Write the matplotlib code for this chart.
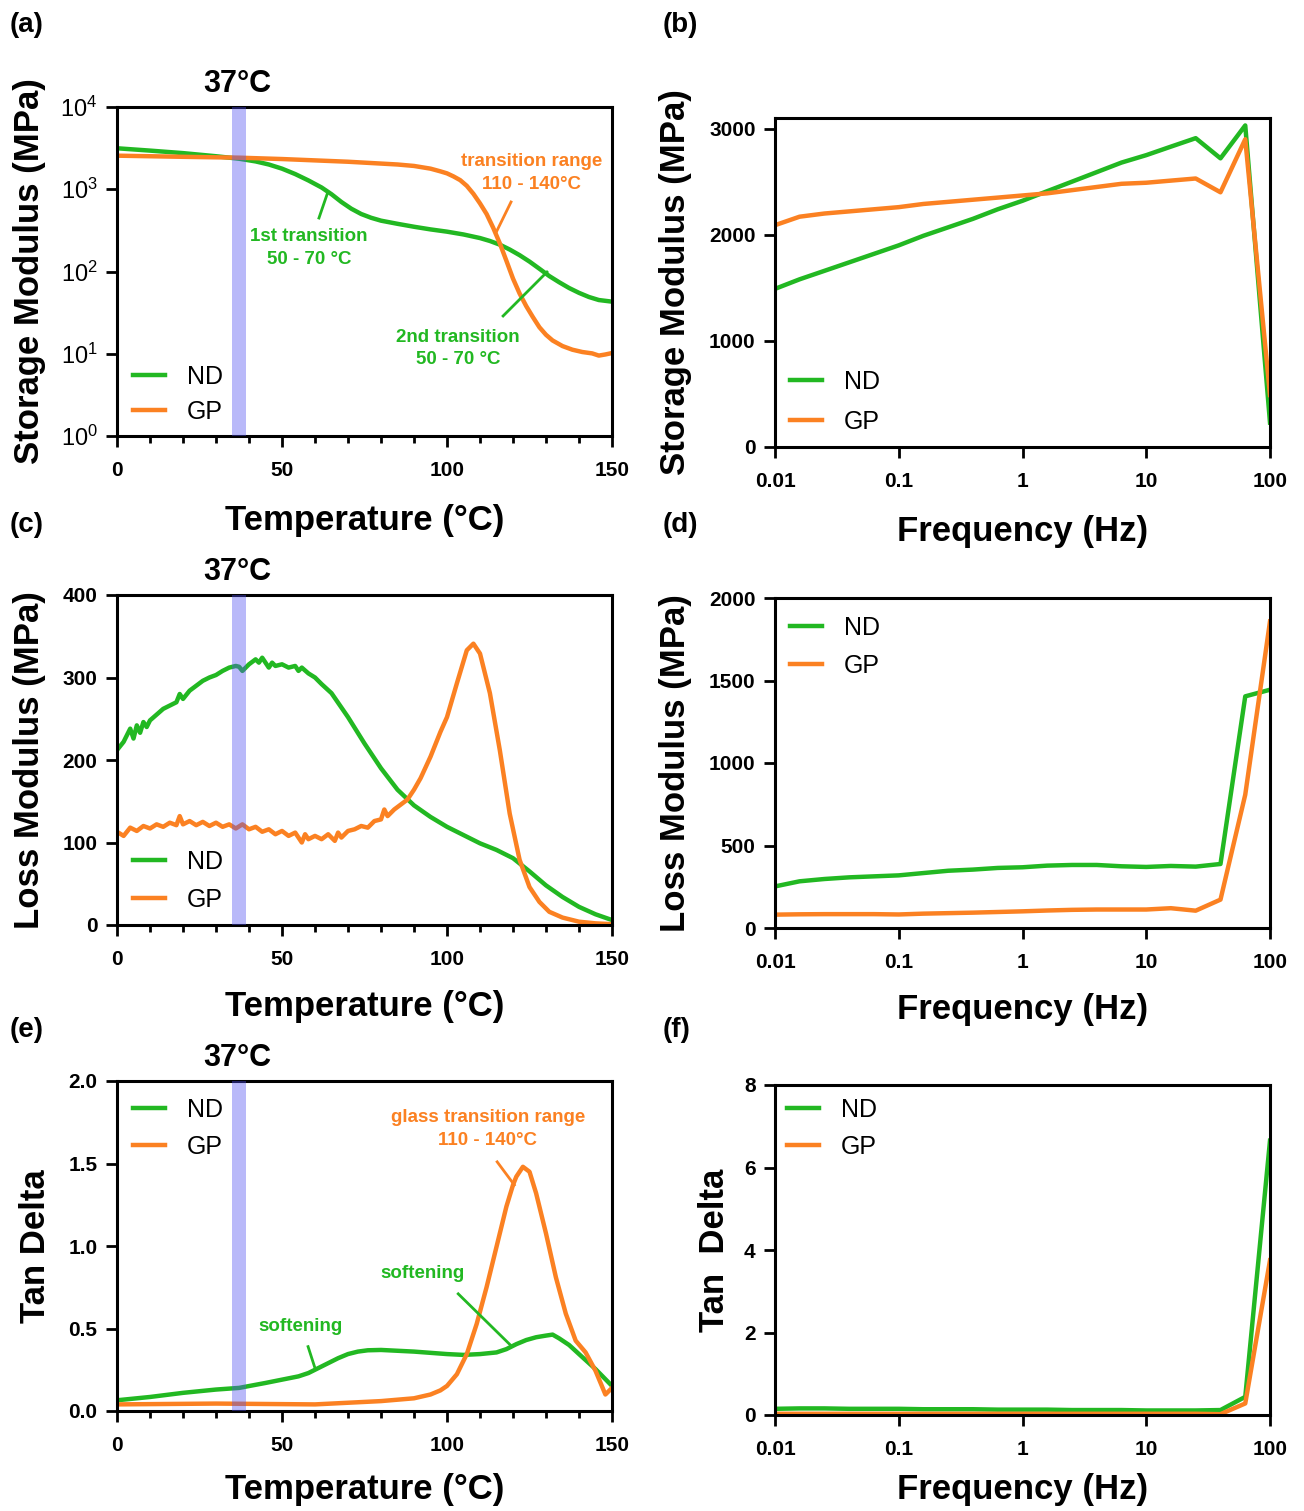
import math
import matplotlib
matplotlib.use('Agg')
import matplotlib.pyplot as plt
from matplotlib.ticker import MultipleLocator, NullLocator, FixedLocator, FuncFormatter

plt.rcParams['font.family'] = ['Liberation Sans', 'DejaVu Sans']
plt.rcParams['mathtext.fontset'] = 'custom'
plt.rcParams['mathtext.rm'] = 'Liberation Sans'
plt.rcParams['mathtext.bf'] = 'Liberation Sans:bold'

GREEN = '#22b822'
ORANGE = '#fb8122'

# ---- temperature sweeps ----
# (a) storage modulus vs temperature
a_temp_nd = [0, 10, 20, 30, 37, 42, 46, 50, 54, 58, 62, 65, 68, 71, 74, 77, 80, 85, 90, 95, 100, 105,
             110, 113, 116, 119, 122, 125, 128, 131, 134, 137, 140, 143, 146, 150]
a_nd = [3150, 2950, 2750, 2520, 2350, 2180, 2000, 1780, 1530, 1280, 1050, 870, 700, 580, 500, 450, 415, 380,
        350, 325, 305, 282, 255, 235, 212, 185, 158, 132, 108, 88, 74, 63, 55, 49, 45, 43]
a_temp_gp = [0, 20, 37, 50, 70, 85, 90, 95, 98, 100, 102, 104, 106, 108, 110, 112, 114, 116, 118, 120, 122,
             124, 126, 128, 130, 132, 135, 138, 141, 144, 146, 148, 150]
a_gp = [2560, 2480, 2420, 2330, 2160, 2000, 1920, 1780, 1650, 1560, 1430, 1290, 1100, 880, 673, 500, 340, 220,
        135, 82, 54, 38, 28, 21, 17, 14.5, 12.4, 11.2, 10.5, 10.1, 9.5, 9.8, 10.2]

# (c) loss modulus vs temperature
c_temp_nd = [0, 2, 3, 4, 5, 6, 7, 8, 9, 10, 12, 14, 16, 18, 19, 20, 22, 24, 26, 28, 30, 32, 34, 36, 37, 38, 40,
             42, 43, 44, 46, 47, 48, 50, 52, 54, 55, 56, 58, 60, 62, 65, 70, 75, 80, 85, 90, 95, 100,
             105, 110, 115, 120, 125, 130, 135, 140, 145, 150]
c_nd = [212, 222, 230, 238, 226, 242, 233, 246, 240, 248, 255, 262, 266, 270, 280, 274, 284, 290, 296, 300, 303,
        308, 312, 314, 313, 308, 316, 322, 318, 324, 312, 318, 314, 316, 312, 314, 308, 312, 305, 300,
        292, 281, 252, 220, 190, 164, 145, 131, 119, 109, 99, 91, 81, 65, 48, 34, 22, 13, 6]
c_temp_gp = [0, 2, 4, 6, 8, 10, 12, 14, 16, 18, 19, 20, 22, 24, 26, 28, 30, 32, 34, 36, 38, 40, 42, 44, 46, 48,
             50, 52, 54, 56, 57, 58, 60, 62, 64, 66, 67, 68, 70, 72, 74, 76, 78, 80, 81, 82, 84, 86, 88, 90,
             92, 95, 98, 100, 103, 106, 108, 110, 113, 116, 119, 122, 125, 128, 131, 135, 140, 145, 150]
c_gp = [113, 108, 118, 114, 120, 117, 122, 119, 124, 121, 132, 122, 126, 121, 125, 120, 124, 119, 122, 117,
        122, 116, 119, 113, 116, 110, 114, 108, 112, 100, 110, 104, 108, 104, 110, 102, 112, 106, 114,
        116, 120, 118, 126, 128, 140, 132, 140, 146, 152, 164, 178, 204, 234, 252, 293, 333, 341, 329,
        281, 212, 135, 79, 46, 28, 16, 9, 4, 2, 1]

# (e) tan delta vs temperature
e_temp_nd = [0, 10, 20, 30, 37, 45, 50, 55, 58, 61, 64, 67, 70, 73, 76, 80, 90, 100, 105, 110, 115, 118, 121,
             124, 127, 130, 132, 134, 137, 140, 145, 150]
e_nd = [0.065, 0.085, 0.11, 0.13, 0.14, 0.17, 0.19, 0.21, 0.23, 0.26, 0.29, 0.32, 0.345, 0.36, 0.368, 0.37,
        0.36, 0.345, 0.34, 0.345, 0.355, 0.375, 0.405, 0.43, 0.447, 0.457, 0.463, 0.44, 0.40, 0.345, 0.254, 0.152]
e_temp_gp = [0, 30, 60, 80, 90, 95, 98, 100, 103, 106, 109, 112, 115, 118, 120, 121, 123, 125, 127, 130, 133,
             136, 139, 142, 145, 148, 150]
e_gp = [0.04, 0.045, 0.04, 0.06, 0.077, 0.10, 0.125, 0.152, 0.223, 0.345, 0.528, 0.751, 0.995, 1.239, 1.37,
        1.42, 1.48, 1.45, 1.32, 1.076, 0.81, 0.59, 0.426, 0.355, 0.244, 0.10, 0.14]

# ---- frequency sweeps ----
freq = [0.01, 0.0158, 0.0251, 0.0398, 0.0631, 0.1, 0.158, 0.251, 0.398, 0.631, 1, 1.58, 2.51, 3.98, 6.31,
        10, 15.8, 25.1, 39.8, 63.1, 100]
b_nd = [1490, 1580, 1660, 1740, 1820, 1900, 1990, 2070, 2150, 2240, 2320, 2410, 2500, 2590, 2680, 2750, 2830, 2910, 2720, 3030, 230]
b_gp = [2090, 2170, 2200, 2220, 2240, 2260, 2290, 2310, 2330, 2350, 2370, 2390, 2420, 2450, 2480, 2490, 2510, 2530, 2400, 2900, 490]
d_nd = [252, 283, 297, 307, 313, 319, 333, 347, 354, 364, 368, 378, 382, 382, 374, 370, 376, 372, 388, 1404, 1444]
d_gp = [81, 83, 84, 84, 84, 82, 87, 90, 93, 97, 101, 106, 110, 112, 112, 112, 120, 105, 172, 808, 1858]
f_nd = [0.15, 0.16, 0.16, 0.15, 0.15, 0.15, 0.14, 0.14, 0.14, 0.13, 0.13, 0.13, 0.12, 0.12, 0.12, 0.11, 0.11, 0.11, 0.12, 0.44, 6.65]
f_gp = [0.03, 0.03, 0.03, 0.03, 0.03, 0.03, 0.03, 0.03, 0.03, 0.03, 0.03, 0.03, 0.03, 0.03, 0.03, 0.03, 0.03, 0.03, 0.02, 0.28, 3.75]

freq_ticks = [0.01, 0.1, 1, 10, 100]
freq_labels = ['0.01', '0.1', '1', '10', '100']

TICK_FS = 15
LABEL_FS = 25
LW = 3.2
NOTE_FS = 13.5

fig = plt.figure(figsize=(13.04, 15.11), dpi=100)


def px_axes(x0, y0, x1, y1):
    W, H = 1304, 1511
    return fig.add_axes([x0 / W, 1 - y1 / H, (x1 - x0) / W, (y1 - y0) / H])


def style(ax):
    for s in ax.spines.values():
        s.set_linewidth(2.2)
    ax.tick_params(which='major', direction='out', length=8, width=2, labelsize=TICK_FS, pad=6)
    ax.tick_params(axis='x', which='major', pad=10)
    ax.tick_params(which='minor', direction='out', length=5, width=2)
    for lab in ax.get_xticklabels() + ax.get_yticklabels():
        lab.set_fontweight('bold')


def temp_axis(ax, pad=17):
    ax.set_xlim(0, 150)
    ax.set_xticks([0, 50, 100, 150])
    ax.xaxis.set_minor_locator(MultipleLocator(10))
    ax.set_xlabel('Temperature (°C)', fontsize=LABEL_FS, fontweight='bold', labelpad=pad)
    ax.axvspan(35, 39, color='#5050f0', alpha=0.4, lw=0, zorder=3)
    ax.text(36.5, 1.07, '37°C', transform=ax.get_xaxis_transform(), ha='center', va='center',
            fontsize=22, fontweight='bold')


def freq_axis(ax, pad=17):
    ax.set_xscale('log')
    ax.set_xlim(0.01, 100)
    ax.xaxis.set_major_locator(FixedLocator(freq_ticks))
    ax.set_xticklabels(freq_labels)
    ax.xaxis.set_minor_locator(NullLocator())
    ax.set_xlabel('Frequency (Hz)', fontsize=LABEL_FS, fontweight='bold', labelpad=pad)


def legend(ax, x, y, spacing=0.45):
    ax.legend(loc='upper left', bbox_to_anchor=(x, y), frameon=False, fontsize=18,
              handlelength=1.3, handletextpad=0.85, labelspacing=spacing,
              borderpad=0, borderaxespad=0)


def panel_label(x, y, s):
    fig.text(x / 1304, 1 - y / 1511, s, fontsize=20, fontweight='bold', va='center', ha='left')


# (a)
ax = px_axes(117, 107, 612, 436)
ax.plot(a_temp_nd, a_nd, color=GREEN, lw=LW, label='ND')
ax.plot(a_temp_gp, a_gp, color=ORANGE, lw=LW, label='GP')
ax.set_yscale('log')
ax.set_ylim(1, 1e4)
ax.yaxis.set_major_locator(FixedLocator([1, 10, 100, 1000, 10000]))
ax.yaxis.set_minor_locator(NullLocator())
ax.yaxis.set_major_formatter(FuncFormatter(lambda v, p: r'$\mathregular{10^{%d}}$' % round(math.log10(v))))
ax.set_ylabel('Storage Modulus (MPa)', fontsize=LABEL_FS, fontweight='bold', labelpad=10)
temp_axis(ax)
ax.text(125.5, 10 ** 3.2, 'transition range\n110 - 140°C', color=ORANGE, fontsize=NOTE_FS, fontweight='bold',
        ha='center', va='center', linespacing=1.45)
ax.plot([119.4, 114.8], [700, 294], color=ORANGE, lw=2)
ax.text(58.2, 195, '1st transition\n50 - 70 °C', color=GREEN, fontsize=NOTE_FS, fontweight='bold',
        ha='center', va='center', linespacing=1.45)
ax.plot([63.9, 61.2], [926, 447], color=GREEN, lw=2)
ax.text(103.3, 11.6, '2nd transition\n50 - 70 °C', color=GREEN, fontsize=NOTE_FS, fontweight='bold',
        ha='center', va='center', linespacing=1.45)
ax.plot([130.3, 117], [98.6, 28.8], color=GREEN, lw=2)
legend(ax, 0.032, 0.216, spacing=0.45)
style(ax)
ax.tick_params(axis='y', labelsize=17)
for lab in ax.get_yticklabels():
    lab.set_fontweight('normal')
panel_label(10, 25, '(a)')

# (b)
ax = px_axes(775, 118, 1270, 447)
ax.plot(freq, b_nd, color=GREEN, lw=LW, label='ND')
ax.plot(freq, b_gp, color=ORANGE, lw=LW, label='GP')
ax.set_ylim(0, 3100)
ax.set_yticks([0, 1000, 2000, 3000])
ax.set_ylabel('Storage Modulus (MPa)', fontsize=LABEL_FS, fontweight='bold', labelpad=12)
freq_axis(ax)
legend(ax, 0.03, 0.235, spacing=0.65)
style(ax)
panel_label(663, 25, '(b)')

# (c)
ax = px_axes(117, 595, 612, 925)
ax.plot(c_temp_nd, c_nd, color=GREEN, lw=LW, label='ND')
ax.plot(c_temp_gp, c_gp, color=ORANGE, lw=LW, label='GP')
ax.set_ylim(0, 400)
ax.set_yticks([0, 100, 200, 300, 400])
ax.set_ylabel('Loss Modulus (MPa)', fontsize=LABEL_FS, fontweight='bold', labelpad=12)
temp_axis(ax, pad=15)
legend(ax, 0.032, 0.228, spacing=0.55)
style(ax)
panel_label(10, 525, '(c)')

# (d)
ax = px_axes(775, 598, 1270, 928)
ax.plot(freq, d_nd, color=GREEN, lw=LW, label='ND')
ax.plot(freq, d_gp, color=ORANGE, lw=LW, label='GP')
ax.set_ylim(0, 2000)
ax.set_yticks([0, 500, 1000, 1500, 2000])
ax.set_ylabel('Loss Modulus (MPa)', fontsize=LABEL_FS, fontweight='bold', labelpad=12)
freq_axis(ax, pad=15)
legend(ax, 0.03, 0.945, spacing=0.55)
style(ax)
panel_label(663, 525, '(d)')

# (e)
ax = px_axes(117, 1081, 612, 1411)
ax.plot(e_temp_nd, e_nd, color=GREEN, lw=LW, label='ND')
ax.plot(e_temp_gp, e_gp, color=ORANGE, lw=LW, label='GP')
ax.set_ylim(0, 2)
ax.set_yticks([0, 0.5, 1.0, 1.5, 2.0])
ax.yaxis.set_major_formatter(FuncFormatter(lambda v, p: '%.1f' % v))
ax.set_ylabel('Tan Delta', fontsize=LABEL_FS, fontweight='bold', labelpad=12)
temp_axis(ax, pad=13)
ax.text(112.4, 1.71, 'glass transition range\n110 - 140°C', color=ORANGE, fontsize=NOTE_FS, fontweight='bold',
        ha='center', va='center', linespacing=1.45)
ax.plot([115.2, 120.4], [1.51, 1.37], color=ORANGE, lw=2)
ax.text(92.5, 0.835, 'softening', color=GREEN, fontsize=NOTE_FS, fontweight='bold', ha='center', va='center')
ax.plot([103.4, 119.2], [0.71, 0.40], color=GREEN, lw=2)
ax.text(55.5, 0.51, 'softening', color=GREEN, fontsize=NOTE_FS, fontweight='bold', ha='center', va='center')
ax.plot([57.9, 60], [0.39, 0.26], color=GREEN, lw=2)
legend(ax, 0.032, 0.948, spacing=0.5)
style(ax)
panel_label(10, 1030, '(e)')

# (f)
ax = px_axes(775, 1085, 1270, 1415)
ax.plot(freq, f_nd, color=GREEN, lw=LW, label='ND')
ax.plot(freq, f_gp, color=ORANGE, lw=LW, label='GP')
ax.set_ylim(0, 8)
ax.set_yticks([0, 2, 4, 6, 8])
ax.set_ylabel('Tan  Delta', fontsize=LABEL_FS, fontweight='bold', labelpad=9)
freq_axis(ax, pad=10)
legend(ax, 0.024, 0.96, spacing=0.5)
style(ax)
panel_label(663, 1030, '(f)')

fig.savefig('out.png', dpi=100)
